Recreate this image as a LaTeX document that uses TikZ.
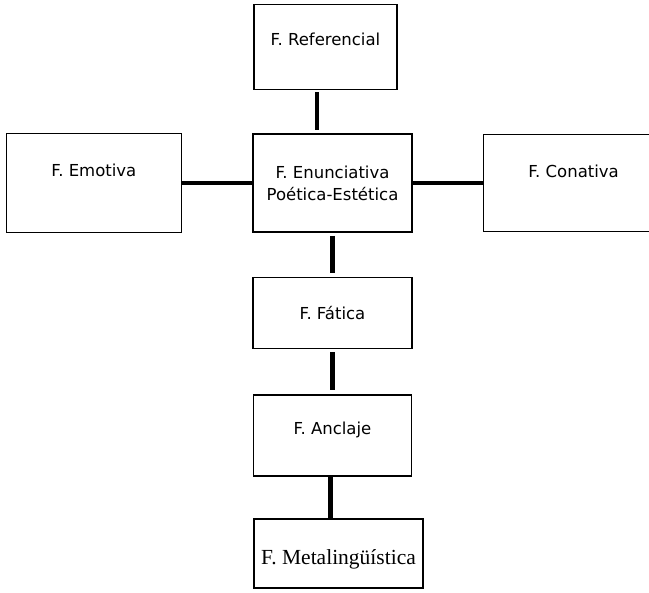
\documentclass[tikz,border=0pt]{standalone}
\usepackage{fontspec}
\setmainfont{DejaVu Sans}
\newfontfamily\serifa{Liberation Serif}
\usetikzlibrary{positioning}
\tikzset{node distance=44pt, % Gap between boxes
fbox/.style={ % Sets the properties for each box
draw, line width=1.6pt, inner sep=0pt,
font=\fontsize{16.5}{22}\selectfont},
lift/.style={text height=12pt, text depth=#1}, % Raises the text inside a box
link/.style={ % Thick vertical joins
draw, line width=4.5pt},
hlink/.style={ % Horizontal joins
draw, line width=3.5pt}}

\begin{document}
\begin{tikzpicture}
    \clip (0,0) rectangle (649pt,-593pt);

    \node[fbox, align=center, minimum width=159pt, minimum height=98pt] (enun) at (332.5pt,-183pt) {F. Enunciativa\\Poética-Estética};
    \node[fbox, lift=15pt, minimum width=143pt, minimum height=85pt, above=43pt of enun, xshift=-7pt] (ref) {F. Referencial};
    \node[fbox, lift=24pt, minimum width=175pt, minimum height=99pt, left=70pt of enun] (emo) {F. Emotiva};
    \node[fbox, lift=23pt, minimum width=180pt, minimum height=97pt, right=70pt of enun] (con) {F. Conativa};
    \node[fbox, lift=0pt, minimum width=159pt, minimum height=71pt, below=44pt of enun] (fat) {F. Fática};
    \node[fbox, lift=15pt, minimum width=158pt, minimum height=81pt, below=45pt of fat] (anc) {F. Anclaje};
    \node[fbox, font=\serifa\fontsize{21.5}{24}\selectfont, text height=22pt, text depth=0pt, minimum width=169pt, minimum height=69pt, below=41pt of anc, xshift=6pt] (met) {F. Metalingüística};

    \draw[link, shorten <=2pt, shorten >=3pt] ([xshift=-8.5pt]ref.south) -- ([xshift=-8.5pt]ref.south |- enun.north);
    \draw[link, shorten <=3pt, shorten >=4pt] (enun.south) -- (fat.north);
    \draw[link, shorten <=3pt, shorten >=4pt] (fat.south) -- (fat.south |- anc.north);
    \draw[link] ([xshift=-2pt]anc.south) -- ([xshift=-2pt]anc.south |- met.north);
    \draw[hlink] (emo.east) -- (enun.west);
    \draw[hlink] (enun.east) -- (con.west);

\end{tikzpicture}
\end{document}
